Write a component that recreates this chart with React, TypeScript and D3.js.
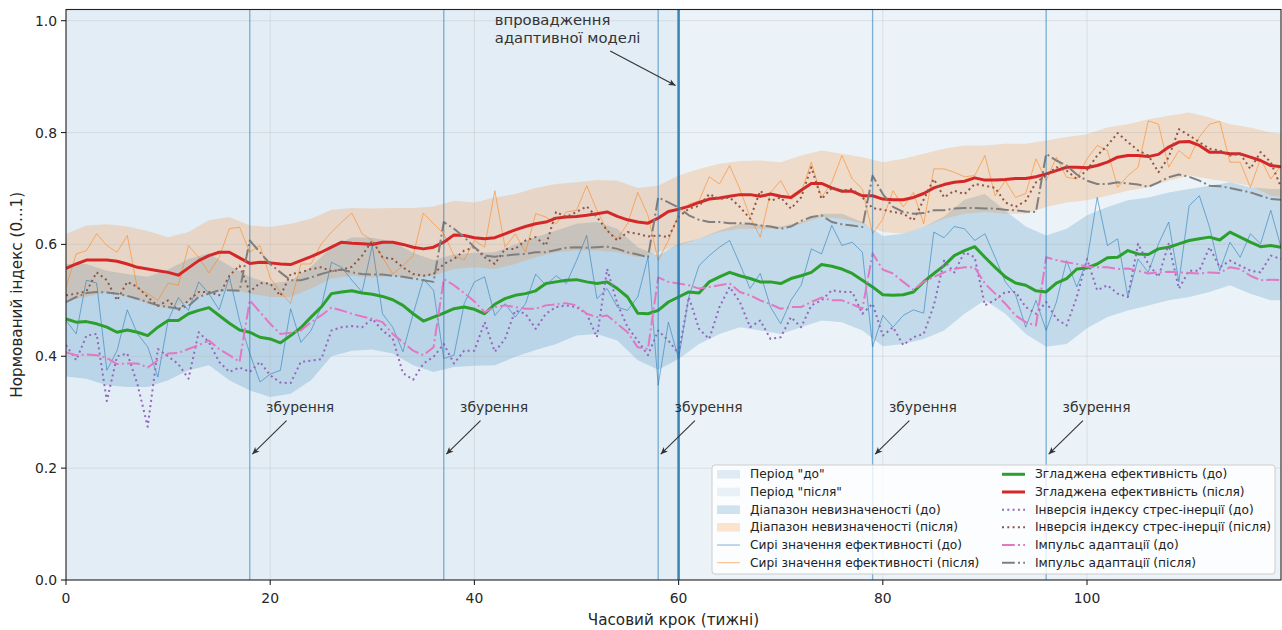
import React from "react";
import * as d3 from "d3";

// time steps (weeks) and the sparser steps at which the uncertainty bands were read
const steps = d3.range(0, 120);
const bandSteps = d3.range(0, 120, 2).concat([119]);

const xTicks = [0, 20, 40, 60, 80, 100];
const yTicks = [0, 0.2, 0.4, 0.6, 0.8, 1.0];

const disturbances = [18, 37, 58, 79, 96];
const adaptationStep = 60;

// raw efficiency values
const rawBefore = [
  0.464, 0.44, 0.536, 0.531, 0.375, 0.41, 0.483, 0.44, 0.417, 0.363,
  0.464, 0.505, 0.482, 0.533, 0.512, 0.483, 0.542, 0.464, 0.405, 0.354,
  0.368, 0.375, 0.485, 0.425, 0.446, 0.488, 0.568, 0.559, 0.536, 0.515,
  0.598, 0.476, 0.452, 0.408, 0.476, 0.538, 0.518, 0.396, 0.402, 0.494,
  0.533, 0.542, 0.473, 0.494, 0.47, 0.494, 0.547, 0.527, 0.544, 0.53,
  0.571, 0.616, 0.503, 0.521, 0.488, 0.482, 0.506, 0.577, 0.348, 0.461,
  0.396, 0.506, 0.562, 0.58, 0.595, 0.607, 0.565, 0.521, 0.548, 0.488,
  0.458, 0.5, 0.527, 0.592, 0.583, 0.634, 0.598, 0.604, 0.586, 0.417,
  0.473, 0.452, 0.473, 0.483, 0.477, 0.622, 0.612, 0.632, 0.628, 0.607,
  0.619, 0.577, 0.533, 0.51, 0.452, 0.5, 0.446, 0.497, 0.571, 0.524,
  0.571, 0.684, 0.598, 0.61, 0.506, 0.574, 0.55, 0.601, 0.64, 0.533,
  0.669, 0.687, 0.631, 0.553, 0.604, 0.577, 0.619, 0.601, 0.661, 0.595,
];
const rawAfter = [
  0.523, 0.583, 0.589, 0.619, 0.598, 0.586, 0.616, 0.521, 0.512, 0.5,
  0.531, 0.527, 0.598, 0.577, 0.549, 0.577, 0.628, 0.631, 0.586, 0.598,
  0.54, 0.515, 0.494, 0.565, 0.565, 0.601, 0.622, 0.64, 0.656, 0.619,
  0.607, 0.577, 0.547, 0.562, 0.58, 0.656, 0.637, 0.619, 0.58, 0.572,
  0.607, 0.595, 0.696, 0.595, 0.619, 0.586, 0.655, 0.649, 0.637, 0.658,
  0.661, 0.705, 0.661, 0.625, 0.61, 0.637, 0.693, 0.652, 0.571, 0.607,
  0.655, 0.672, 0.678, 0.721, 0.708, 0.741, 0.699, 0.649, 0.613, 0.693,
  0.714, 0.681, 0.693, 0.747, 0.684, 0.711, 0.759, 0.717, 0.699, 0.619,
  0.645, 0.696, 0.667, 0.693, 0.637, 0.735, 0.735, 0.729, 0.721, 0.723,
  0.759, 0.687, 0.714, 0.684, 0.691, 0.753, 0.714, 0.756, 0.72, 0.717,
  0.753, 0.777, 0.768, 0.702, 0.723, 0.738, 0.821, 0.815, 0.738, 0.768,
  0.753, 0.792, 0.815, 0.82, 0.747, 0.747, 0.702, 0.753, 0.717, 0.741,
];

// smoothed efficiency
const smoothBefore = [
  0.467, 0.461, 0.462, 0.458, 0.452, 0.443, 0.447, 0.443, 0.437, 0.452,
  0.464, 0.464, 0.476, 0.482, 0.487, 0.473, 0.459, 0.447, 0.443, 0.434,
  0.431, 0.424, 0.437, 0.451, 0.47, 0.488, 0.512, 0.515, 0.517, 0.513,
  0.511, 0.507, 0.501, 0.491, 0.476, 0.463, 0.47, 0.477, 0.485, 0.488,
  0.484, 0.476, 0.493, 0.503, 0.509, 0.512, 0.517, 0.53, 0.533, 0.536,
  0.537, 0.533, 0.53, 0.533, 0.521, 0.506, 0.477, 0.476, 0.482, 0.497,
  0.506, 0.515, 0.513, 0.533, 0.542, 0.55, 0.544, 0.539, 0.533, 0.533,
  0.53, 0.539, 0.544, 0.55, 0.564, 0.561, 0.556, 0.548, 0.536, 0.524,
  0.51, 0.509, 0.51, 0.515, 0.533, 0.548, 0.562, 0.58, 0.589, 0.596,
  0.577, 0.559, 0.542, 0.531, 0.527, 0.517, 0.515, 0.531, 0.539, 0.556,
  0.558, 0.565, 0.576, 0.577, 0.589, 0.583, 0.582, 0.592, 0.595, 0.601,
  0.607, 0.61, 0.613, 0.608, 0.622, 0.613, 0.604, 0.596, 0.598, 0.595,
];
const smoothAfter = [
  0.557, 0.565, 0.572, 0.572, 0.572, 0.57, 0.565, 0.559, 0.556, 0.553,
  0.55, 0.545, 0.558, 0.571, 0.58, 0.586, 0.586, 0.576, 0.566, 0.568,
  0.567, 0.565, 0.564, 0.571, 0.578, 0.586, 0.595, 0.604, 0.602, 0.601,
  0.6, 0.604, 0.604, 0.6, 0.595, 0.592, 0.595, 0.604, 0.617, 0.616,
  0.612, 0.61, 0.612, 0.619, 0.626, 0.632, 0.637, 0.64, 0.647, 0.649,
  0.65, 0.652, 0.655, 0.658, 0.65, 0.644, 0.64, 0.638, 0.647, 0.659,
  0.663, 0.668, 0.675, 0.681, 0.683, 0.686, 0.689, 0.689, 0.686, 0.69,
  0.686, 0.684, 0.697, 0.709, 0.709, 0.701, 0.695, 0.695, 0.687, 0.687,
  0.681, 0.68, 0.68, 0.684, 0.691, 0.701, 0.707, 0.711, 0.713, 0.719,
  0.715, 0.715, 0.716, 0.718, 0.718, 0.721, 0.726, 0.732, 0.738, 0.738,
  0.737, 0.741, 0.747, 0.756, 0.759, 0.759, 0.757, 0.761, 0.774, 0.783,
  0.784, 0.777, 0.765, 0.765, 0.762, 0.762, 0.756, 0.75, 0.741, 0.739,
];

// inverted stress-inertia index
const invBefore = [
  0.42, 0.393, 0.437, 0.44, 0.32, 0.4, 0.405, 0.35, 0.274, 0.413,
  0.4, 0.386, 0.36, 0.443, 0.425, 0.39, 0.372, 0.38, 0.372, 0.39,
  0.366, 0.353, 0.352, 0.39, 0.392, 0.395, 0.446, 0.452, 0.454, 0.452,
  0.467, 0.446, 0.432, 0.37, 0.358, 0.387, 0.399, 0.422, 0.387, 0.41,
  0.41, 0.461, 0.408, 0.431, 0.482, 0.476, 0.449, 0.476, 0.488, 0.491,
  0.488, 0.476, 0.434, 0.556, 0.494, 0.452, 0.428, 0.402, 0.446, 0.428,
  0.405, 0.506, 0.449, 0.431, 0.488, 0.524, 0.497, 0.452, 0.464, 0.431,
  0.434, 0.47, 0.452, 0.491, 0.5, 0.518, 0.515, 0.515, 0.476, 0.494,
  0.437, 0.452, 0.42, 0.434, 0.44, 0.491, 0.571, 0.55, 0.586, 0.577,
  0.491, 0.501, 0.515, 0.515, 0.488, 0.476, 0.497, 0.467, 0.455, 0.506,
  0.574, 0.518, 0.527, 0.512, 0.506, 0.601, 0.565, 0.542, 0.601, 0.521,
  0.553, 0.553, 0.595, 0.559, 0.571, 0.562, 0.553, 0.55, 0.58, 0.574,
];
const invAfter = [
  0.509, 0.512, 0.516, 0.55, 0.536, 0.5, 0.533, 0.524, 0.506, 0.49,
  0.5, 0.482, 0.5, 0.515, 0.515, 0.509, 0.544, 0.562, 0.515, 0.531,
  0.53, 0.508, 0.547, 0.55, 0.556, 0.559, 0.552, 0.555, 0.56, 0.58,
  0.607, 0.577, 0.574, 0.559, 0.547, 0.544, 0.547, 0.565, 0.574, 0.589,
  0.595, 0.577, 0.565, 0.592, 0.592, 0.607, 0.613, 0.598, 0.658, 0.649,
  0.658, 0.668, 0.649, 0.625, 0.607, 0.622, 0.619, 0.614, 0.616, 0.613,
  0.649, 0.664, 0.669, 0.69, 0.681, 0.684, 0.667, 0.646, 0.696, 0.678,
  0.684, 0.664, 0.684, 0.738, 0.681, 0.701, 0.696, 0.699, 0.684, 0.665,
  0.662, 0.658, 0.655, 0.643, 0.68, 0.717, 0.684, 0.696, 0.69, 0.708,
  0.705, 0.701, 0.675, 0.667, 0.678, 0.711, 0.723, 0.738, 0.732, 0.717,
  0.733, 0.759, 0.777, 0.799, 0.783, 0.768, 0.759, 0.729, 0.756, 0.806,
  0.795, 0.783, 0.771, 0.768, 0.759, 0.762, 0.735, 0.765, 0.747, 0.702,
];

// adaptation impulse
const impBefore = [
  0.407, 0.402, 0.403, 0.402, 0.397, 0.386, 0.387, 0.387, 0.38, 0.393,
  0.405, 0.406, 0.413, 0.42, 0.428, 0.413, 0.402, 0.39, 0.5, 0.479,
  0.458, 0.44, 0.442, 0.446, 0.461, 0.473, 0.487, 0.482, 0.476, 0.471,
  0.467, 0.461, 0.44, 0.425, 0.41, 0.402, 0.416, 0.538, 0.527, 0.513,
  0.498, 0.479, 0.488, 0.491, 0.488, 0.485, 0.485, 0.491, 0.493, 0.495,
  0.491, 0.476, 0.47, 0.473, 0.458, 0.443, 0.416, 0.413, 0.541, 0.533,
  0.53, 0.527, 0.521, 0.524, 0.527, 0.53, 0.515, 0.509, 0.5, 0.493,
  0.485, 0.488, 0.488, 0.497, 0.505, 0.5, 0.5, 0.493, 0.485, 0.584,
  0.555, 0.548, 0.533, 0.519, 0.533, 0.542, 0.55, 0.556, 0.559, 0.559,
  0.53, 0.512, 0.494, 0.473, 0.461, 0.455, 0.577, 0.572, 0.568, 0.565,
  0.56, 0.559, 0.559, 0.556, 0.557, 0.553, 0.548, 0.55, 0.551, 0.55,
  0.549, 0.548, 0.55, 0.549, 0.559, 0.556, 0.544, 0.536, 0.537, 0.536,
];
const impAfter = [
  0.497, 0.506, 0.513, 0.515, 0.514, 0.512, 0.508, 0.503, 0.497, 0.491,
  0.488, 0.485, 0.49, 0.506, 0.512, 0.518, 0.518, 0.517, 0.607, 0.586,
  0.565, 0.55, 0.536, 0.536, 0.541, 0.547, 0.552, 0.555, 0.55, 0.547,
  0.546, 0.546, 0.544, 0.542, 0.539, 0.536, 0.533, 0.64, 0.628, 0.613,
  0.595, 0.58, 0.578, 0.58, 0.582, 0.583, 0.586, 0.586, 0.59, 0.594,
  0.595, 0.594, 0.595, 0.596, 0.592, 0.586, 0.582, 0.577, 0.684, 0.675,
  0.666, 0.652, 0.644, 0.64, 0.64, 0.638, 0.638, 0.637, 0.634, 0.632,
  0.628, 0.632, 0.642, 0.649, 0.652, 0.64, 0.636, 0.634, 0.631, 0.723,
  0.69, 0.667, 0.658, 0.655, 0.656, 0.661, 0.661, 0.664, 0.665, 0.665,
  0.664, 0.664, 0.662, 0.661, 0.659, 0.658, 0.762, 0.75, 0.741, 0.725,
  0.714, 0.708, 0.708, 0.711, 0.709, 0.707, 0.703, 0.711, 0.72, 0.725,
  0.721, 0.714, 0.705, 0.704, 0.701, 0.697, 0.693, 0.687, 0.681, 0.68,
];

// uncertainty bands (at bandSteps)
const bandLowBefore = [
  0.364, 0.36, 0.348, 0.345, 0.345, 0.357, 0.375, 0.384, 0.357, 0.339,
  0.327, 0.333, 0.357, 0.4, 0.41, 0.412, 0.405, 0.384, 0.372, 0.381,
  0.383, 0.384, 0.399, 0.411, 0.422, 0.437, 0.44, 0.428, 0.393, 0.376,
  0.395, 0.422, 0.44, 0.452, 0.446, 0.44, 0.452, 0.464, 0.461, 0.446,
  0.418, 0.422, 0.431, 0.446, 0.476, 0.5, 0.476, 0.44, 0.417, 0.422,
  0.45, 0.47, 0.482, 0.491, 0.5, 0.506, 0.515, 0.527, 0.512, 0.5,
  0.5,
];
const bandHighBefore = [
  0.565, 0.565, 0.553, 0.547, 0.542, 0.555, 0.574, 0.584, 0.562, 0.542,
  0.53, 0.535, 0.56, 0.595, 0.613, 0.612, 0.605, 0.585, 0.572, 0.582,
  0.585, 0.586, 0.6, 0.613, 0.625, 0.637, 0.64, 0.628, 0.595, 0.58,
  0.601, 0.61, 0.625, 0.637, 0.635, 0.632, 0.64, 0.655, 0.655, 0.64,
  0.615, 0.619, 0.631, 0.65, 0.68, 0.69, 0.66, 0.632, 0.616, 0.628,
  0.652, 0.667, 0.679, 0.684, 0.693, 0.699, 0.705, 0.711, 0.702, 0.699,
  0.699,
];
const bandLowAfter = [
  0.5, 0.506, 0.515, 0.506, 0.494, 0.485, 0.497, 0.515, 0.521, 0.512,
  0.506, 0.506, 0.521, 0.539, 0.544, 0.541, 0.544, 0.541, 0.544, 0.556,
  0.559, 0.556, 0.565, 0.577, 0.586, 0.589, 0.589, 0.586, 0.577, 0.586,
  0.598, 0.61, 0.622, 0.628, 0.628, 0.628, 0.637, 0.649, 0.646, 0.637,
  0.622, 0.619, 0.631, 0.646, 0.655, 0.658, 0.655, 0.655, 0.667, 0.675,
  0.679, 0.687, 0.696, 0.702, 0.714, 0.723, 0.717, 0.711, 0.705, 0.687,
  0.685,
];
const bandHighAfter = [
  0.619, 0.634, 0.636, 0.632, 0.624, 0.613, 0.622, 0.643, 0.649, 0.634,
  0.631, 0.637, 0.646, 0.662, 0.665, 0.664, 0.665, 0.665, 0.668, 0.678,
  0.675, 0.684, 0.69, 0.701, 0.708, 0.711, 0.715, 0.714, 0.701, 0.705,
  0.723, 0.735, 0.744, 0.749, 0.75, 0.747, 0.759, 0.768, 0.762, 0.756,
  0.747, 0.753, 0.762, 0.771, 0.777, 0.777, 0.78, 0.78, 0.786, 0.792,
  0.797, 0.809, 0.815, 0.824, 0.83, 0.836, 0.827, 0.815, 0.809, 0.8,
  0.798,
];

const BLUE = "#1f77b4";
const ORANGE = "#ff7f0e";
const FONT = "DejaVu Sans, Verdana, sans-serif";

const W = 1282;
const H = 630;

const x = d3.scaleLinear().domain([0, 119]).range([66, 1281]);
const y = d3.scaleLinear().domain([0, 1.02]).range([580, 9.5]);

const linePath = (vals: number[]) =>
  d3.line<number>().x((_, i) => x(steps[i])).y((d) => y(d))(vals) || "";

const bandPath = (lo: number[], hi: number[]) =>
  d3
    .area<number>()
    .x((_, i) => x(bandSteps[i]))
    .y0((_, i) => y(lo[i]))
    .y1((d) => y(d))(hi) || "";

type Style = {
  color: string;
  width: number;
  opacity?: number;
  dash?: string;
};

const styles: Record<string, Style> = {
  rawBefore: { color: BLUE, width: 1, opacity: 0.55 },
  rawAfter: { color: ORANGE, width: 1, opacity: 0.55 },
  smoothBefore: { color: "#2ca02c", width: 3 },
  smoothAfter: { color: "#d62728", width: 3 },
  invBefore: { color: "#9467bd", width: 2, dash: "2,3.3" },
  invAfter: { color: "#8c564b", width: 2, dash: "2,3.3" },
  impBefore: { color: "#e377c2", width: 2, dash: "12.8,3.2,2,3.2" },
  impAfter: { color: "#7f7f7f", width: 2, dash: "12.8,3.2,2,3.2" },
};

const legendLeft = [
  { label: 'Період "до"', patch: BLUE, alpha: 0.13 },
  { label: 'Період "після"', patch: BLUE, alpha: 0.09 },
  { label: "Діапазон невизначеності (до)", patch: BLUE, alpha: 0.2 },
  { label: "Діапазон невизначеності (після)", patch: ORANGE, alpha: 0.2 },
  { label: "Сирі значення ефективності (до)", line: "rawBefore" },
  { label: "Сирі значення ефективності (після)", line: "rawAfter" },
];
const legendRight = [
  { label: "Згладжена ефективність (до)", line: "smoothBefore" },
  { label: "Згладжена ефективність (після)", line: "smoothAfter" },
  { label: "Інверсія індексу стрес-інерції (до)", line: "invBefore" },
  { label: "Інверсія індексу стрес-інерції (після)", line: "invAfter" },
  { label: "Імпульс адаптації (до)", line: "impBefore" },
  { label: "Імпульс адаптації (після)", line: "impAfter" },
];

function LegendItem({ item, x0, yc }: { item: any; x0: number; yc: number }) {
  return (
    <g>
      {item.patch ? (
        <rect x={x0} y={yc - 4.3} width={23} height={8.6} fill={item.patch} fillOpacity={item.alpha} />
      ) : (
        <line
          x1={x0}
          x2={x0 + 23}
          y1={yc}
          y2={yc}
          stroke={styles[item.line].color}
          strokeWidth={styles[item.line].width}
          strokeOpacity={styles[item.line].opacity ?? 1}
          strokeDasharray={styles[item.line].dash}
        />
      )}
      <text x={x0 + 33} y={yc} dominantBaseline="central" fontSize={12.2} fill="#222">
        {item.label}
      </text>
    </g>
  );
}

export default function App() {
  const series: [string, number[]][] = [
    ["rawBefore", rawBefore],
    ["rawAfter", rawAfter],
    ["smoothBefore", smoothBefore],
    ["smoothAfter", smoothAfter],
    ["invBefore", invBefore],
    ["invAfter", invAfter],
    ["impBefore", impBefore],
    ["impAfter", impAfter],
  ];
  const [x0, x1] = x.range();
  const [yb, yt] = y.range();
  const rowY = (i: number) => 474.3 + i * 17.68;

  return (
    <div style={{ position: "absolute", left: 0, top: 0 }}>
      <svg width={W} height={H} fontFamily={FONT} style={{ display: "block", background: "#fff" }}>
        <defs>
          <clipPath id="plot">
            <rect x={x0} y={yt} width={x1 - x0} height={yb - yt} />
          </clipPath>
          <marker id="arr" viewBox="0 0 10 10" refX="10" refY="5" markerWidth="9" markerHeight="7"
            markerUnits="userSpaceOnUse" orient="auto">
            <path d="M0,0.5 L10,5 L0,9.5 L2.5,5 z" fill="#333" />
          </marker>
        </defs>

        <g clipPath="url(#plot)">
          {/* periods */}
          <rect x={x(0)} y={yt} width={x(adaptationStep) - x(0)} height={yb - yt} fill={BLUE} fillOpacity={0.13} />
          <rect x={x(adaptationStep)} y={yt} width={x(119) - x(adaptationStep)} height={yb - yt} fill={BLUE} fillOpacity={0.09} />

          {/* uncertainty bands */}
          <path d={bandPath(bandLowBefore, bandHighBefore)} fill={BLUE} fillOpacity={0.2} />
          <path d={bandPath(bandLowAfter, bandHighAfter)} fill={ORANGE} fillOpacity={0.2} />

          {/* grid */}
          {xTicks.map((t) => (
            <line key={"gx" + t} x1={x(t)} x2={x(t)} y1={yt} y2={yb} stroke="#b0b0b0" strokeOpacity={0.35} strokeWidth={0.8} />
          ))}
          {yTicks.map((t) => (
            <line key={"gy" + t} x1={x0} x2={x1} y1={y(t)} y2={y(t)} stroke="#b0b0b0" strokeOpacity={0.35} strokeWidth={0.8} />
          ))}

          {series.map(([key, vals]) => {
            const s = styles[key];
            return (
              <path
                key={key}
                d={linePath(vals)}
                fill="none"
                stroke={s.color}
                strokeWidth={s.width}
                strokeOpacity={s.opacity ?? 1}
                strokeDasharray={s.dash}
                strokeLinejoin="round"
              />
            );
          })}

          {/* disturbances and adaptation moment */}
          {disturbances.map((d) => (
            <line key={"d" + d} x1={x(d)} x2={x(d)} y1={yt} y2={yb} stroke={BLUE} strokeOpacity={0.55} strokeWidth={1.3} />
          ))}
          <line x1={x(adaptationStep)} x2={x(adaptationStep)} y1={yt} y2={yb} stroke={BLUE} strokeOpacity={0.85} strokeWidth={2.6} />
        </g>

        {/* annotations */}
        {disturbances.map((d) => (
          <g key={"a" + d}>
            <text x={x(d + 1.6)} y={y(0.3)} fontSize={13.9} fill="#333">
              збурення
            </text>
            <line x1={x(d + 3.6)} y1={y(0.285)} x2={x(d + 0.25)} y2={y(0.225)} stroke="#333" strokeWidth={1.1} markerEnd="url(#arr)" />
          </g>
        ))}
        <text x={x(42)} y={y(0.992)} fontSize={14.8} fill="#333">
          впровадження
        </text>
        <text x={x(42)} y={y(0.96)} fontSize={14.8} fill="#333">
          адаптивної моделі
        </text>
        <line x1={x(53.3)} y1={y(0.946)} x2={x(59.7)} y2={y(0.884)} stroke="#333" strokeWidth={1.1} markerEnd="url(#arr)" />

        {/* spines */}
        <rect x={x0} y={yt} width={x1 - x0} height={yb - yt} fill="none" stroke="#222" strokeWidth={1.1} />

        {/* ticks */}
        {xTicks.map((t) => (
          <g key={"tx" + t}>
            <line x1={x(t)} x2={x(t)} y1={yb} y2={yb + 5} stroke="#222" strokeWidth={1.1} />
            <text x={x(t)} y={603} textAnchor="middle" fontSize={13.9} fill="#262626">
              {t}
            </text>
          </g>
        ))}
        {yTicks.map((t) => (
          <g key={"ty" + t}>
            <line x1={x0 - 5} x2={x0} y1={y(t)} y2={y(t)} stroke="#222" strokeWidth={1.1} />
            <text x={x0 - 9} y={y(t)} textAnchor="end" dominantBaseline="central" fontSize={13.9} fill="#262626">
              {t.toFixed(1)}
            </text>
          </g>
        ))}

        <text x={(x0 + x1) / 2} y={625} textAnchor="middle" fontSize={15.2} fill="#262626">
          Часовий крок (тижні)
        </text>
        <text transform={`translate(22, ${(yt + yb) / 2}) rotate(-90)`} textAnchor="middle" fontSize={15.2} fill="#262626">
          Нормований індекс (0...1)
        </text>

        {/* legend */}
        <rect x={712} y={465} width={563} height={109} rx={3} fill="#fff" fillOpacity={0.8} stroke="#cccccc" strokeWidth={1} />
        {legendLeft.map((it, i) => (
          <LegendItem key={"l" + i} item={it} x0={717} yc={rowY(i)} />
        ))}
        {legendRight.map((it, i) => (
          <LegendItem key={"r" + i} item={it} x0={1002} yc={rowY(i)} />
        ))}
      </svg>
    </div>
  );
}
